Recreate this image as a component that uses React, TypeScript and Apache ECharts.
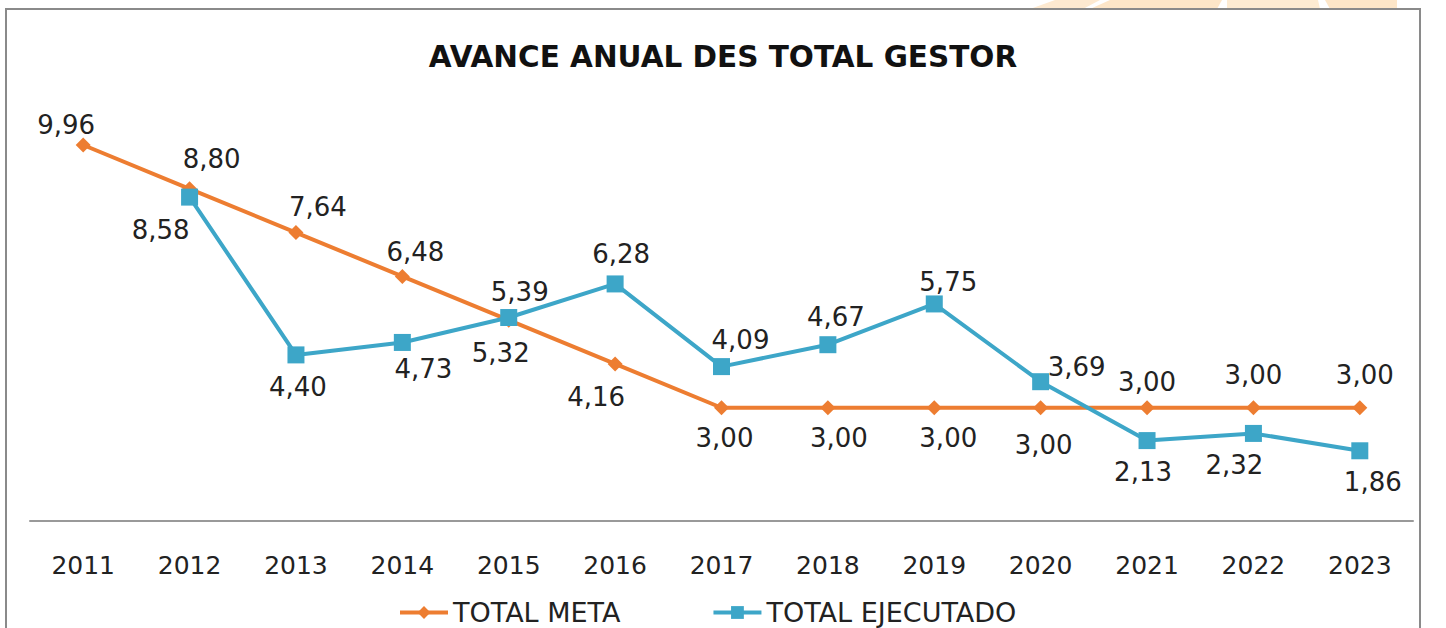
import React, { useEffect, useRef } from "react";
import * as echarts from "echarts";

const years = ["2011", "2012", "2013", "2014", "2015", "2016", "2017", "2018", "2019", "2020", "2021", "2022", "2023"];
const totalMeta = [9.96, 8.8, 7.64, 6.48, 5.32, 4.16, 3.0, 3.0, 3.0, 3.0, 3.0, 3.0, 3.0];
const totalEjecutado = [null, 8.58, 4.4, 4.73, 5.39, 6.28, 4.09, 4.67, 5.75, 3.69, 2.13, 2.32, 1.86];

const title = "AVANCE ANUAL DES TOTAL GESTOR";
const seriesNames = ["TOTAL META", "TOTAL EJECUTADO"];

// label placement offsets (style only)
const metaLabelOffsets = [[-17, -20], [22, -30], [22, -26], [13, -24], [-8, 33], [-19, 33], [3, 30], [11, 30], [14, 30], [3, 37], [0, -26], [0, -33], [5, -33]];
const ejecLabelOffsets = [[0, 0], [-29, 33], [2, 32], [21, 27], [11, -26], [6, -30], [19, -27], [8, -28], [14, -22], [36, -15], [-4, 31], [-19, 32], [13, 31]];

const fmt = (v: number) => v.toFixed(2).replace(".", ",");

export default function App() {
  const ref = useRef<HTMLDivElement>(null);
  useEffect(() => {
    document.body.style.margin = "0";
    const chart = echarts.init(ref.current!, null, { renderer: "svg" });
    const FONT = "DejaVu Sans";
    const mkData = (vals: (number | null)[], offs: number[][]) =>
      vals.map((v, i) => (v == null ? null : { value: v, label: { offset: offs[i] } }));
    const lbl = {
      show: true,
      position: "inside",
      fontFamily: FONT,
      fontSize: 26,
      color: "#222",
      formatter: (p: any) => fmt(p.value),
    };
    chart.setOption({
      animation: false,
      backgroundColor: "#ffffff",
      title: {
        text: title,
        left: "center",
        top: 37,
        textStyle: { fontFamily: FONT, fontWeight: "bold", fontSize: 29.5, color: "#111" },
      },
      grid: { left: 30, right: 33, top: 68, bottom: 107 },
      legend: {
        left: 393,
        top: 594,
        itemWidth: 48,
        itemHeight: 16,
        itemGap: 91,
        lineStyle: { width: 4 },
        textStyle: { fontFamily: FONT, fontSize: 27, color: "#222" },
        data: seriesNames,
      },
      xAxis: {
        type: "category",
        data: years,
        boundaryGap: true,
        axisLine: { lineStyle: { color: "#999", width: 2 } },
        axisTick: { show: false },
        axisLabel: { fontFamily: FONT, fontSize: 25, color: "#222", margin: 32 },
      },
      yAxis: {
        type: "value",
        min: 0,
        max: 12,
        interval: 2,
        show: false,
        splitLine: { show: false },
      },
      series: [
        {
          name: seriesNames[0],
          type: "line",
          data: mkData(totalMeta, metaLabelOffsets),
          symbol: "diamond",
          symbolSize: 15,
          itemStyle: { color: "#ED7D31" },
          lineStyle: { color: "#ED7D31", width: 4 },
          label: lbl,
          z: 2,
        },
        {
          name: seriesNames[1],
          type: "line",
          data: mkData(totalEjecutado, ejecLabelOffsets),
          symbol: "rect",
          symbolSize: 17,
          itemStyle: { color: "#3DA6C8" },
          lineStyle: { color: "#3DA6C8", width: 4 },
          label: lbl,
          z: 3,
        },
      ],
      graphic: [
        {
          type: "polygon",
          shape: { points: [[1055, 0], [1100, 0], [1083, 9], [1030, 9]] },
          style: { fill: "#FDE9D0" },
          silent: true,
        },
        {
          type: "polygon",
          shape: { points: [[1110, 0], [1222, 0], [1217, 9], [1090, 9]] },
          style: { fill: "#FDE6C8" },
          silent: true,
        },
        {
          type: "polygon",
          shape: { points: [[1227, 0], [1318, 0], [1320, 9], [1227, 9]] },
          style: { fill: "#FDEBD2" },
          silent: true,
        },
        {
          type: "polygon",
          shape: { points: [[1325, 0], [1397, 0], [1397, 9], [1330, 9]] },
          style: { fill: "#FDE6C8" },
          silent: true,
        },
        {
          type: "rect",
          shape: { x: 6, y: 9, width: 1414, height: 640 },
          style: { fill: "none", stroke: "#8a8a8a", lineWidth: 2 },
          silent: true,
        },
      ],
    });
    return () => chart.dispose();
  }, []);
  return <div ref={ref} style={{ width: 1446, height: 628 }} />;
}
